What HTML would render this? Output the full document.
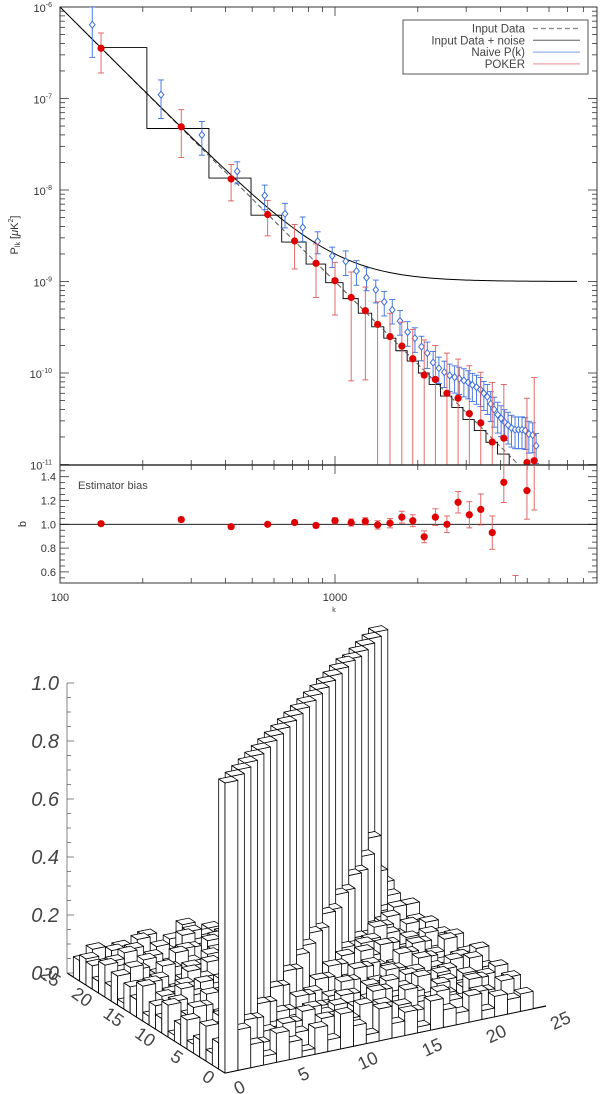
<!DOCTYPE html>
<html><head><meta charset="utf-8"><style>
html,body{margin:0;padding:0;background:#fff}
svg{display:block;font-family:"Liberation Sans",sans-serif}
</style></head><body>
<svg id="fig" width="600" height="1094" viewBox="0 0 600 1094" xmlns="http://www.w3.org/2000/svg">
<defs><clipPath id="clipTop"><rect x="60" y="7" width="537" height="458"/></clipPath>
<clipPath id="clipBot"><rect x="60" y="465" width="537" height="118"/></clipPath></defs>
<g id="topPanel"></g>
<g id="biasPanel"></g>
<g id="legoPanel"></g>
</svg>
<script>
// ---------- data: power spectrum ----------
const pokerK=[141,276,419,569,713,853,1000,1145,1289,1429,1585,1750,1918,2110,2317,2553,2803,3079,3389,3731,4111,4529,4989,5301];
const pokerP=[3.54e-7,4.9e-8,1.32e-8,5.4e-9,2.77e-9,1.58e-9,1.02e-9,6.7e-10,4.8e-10,3.4e-10,2.5e-10,1.97e-10,1.43e-10,9.5e-11,8.5e-11,6.0e-11,5.3e-11,3.6e-11,2.85e-11,1.76e-11,1.94e-11,4e-12,1.05e-11,1.1e-11];
const pokerUp=[5.2e-7,7.55e-8,1.9e-8,7.7e-9,4.2e-9,2.57e-9,1.62e-9,1.27e-9,8.7e-10,6e-10,4.5e-10,3.6e-10,3.0e-10,2.3e-10,2.0e-10,1.65e-10,1.42e-10,1.2e-10,1.02e-10,7.9e-11,7.5e-11,9e-12,5.3e-11,8.9e-11];
const pokerLo=[1.9e-7,2.27e-8,7.6e-9,3.15e-9,1.37e-9,6.7e-10,4.3e-10,8.2e-11,8.4e-11,1e-12,1e-12,1e-12,1e-12,1e-12,1e-12,1e-12,1e-12,1e-12,1e-12,1e-12,1e-12,1e-12,1e-12,1e-12];
const naiveK=[131,233,328,441,555,658,763,865,977,1094,1197,1302,1407,1510,1615,1723,1837,1953,2063,2166,2274,2387,2497,2612,2723,2830,2942,3050,3158,3270,3380,3478,3580,3684,3790,3905,4018,4140,4260,4383,4516,4645,4786,4920,5070,5236,5386];
const naiveP=[6.4e-7,1.1e-7,4.0e-8,1.6e-8,8.7e-9,5.5e-9,3.9e-9,2.75e-9,1.9e-9,1.66e-9,1.3e-9,1.1e-9,8.1e-10,6.0e-10,4.9e-10,3.7e-10,2.8e-10,2.4e-10,1.94e-10,1.65e-10,1.3e-10,1.13e-10,1.02e-10,9.4e-11,9.0e-11,8.7e-11,8.3e-11,7.9e-11,7.4e-11,7.0e-11,6.6e-11,6.0e-11,5.5e-11,4.6e-11,4.0e-11,3.5e-11,3.2e-11,2.9e-11,2.7e-11,2.5e-11,2.4e-11,2.4e-11,2.4e-11,2.35e-11,2.15e-11,2.1e-11,1.6e-11];
const naiveErr=[0.56,0.45,0.4,0.27,0.3,0.3,0.3,0.27,0.25,0.3,0.3,0.28,0.28,0.3,0.3,0.3,0.3,0.3,0.3,0.32,0.32,0.32,0.32,0.33,0.33,0.33,0.34,0.34,0.34,0.35,0.35,0.35,0.36,0.36,0.36,0.37,0.37,0.37,0.38,0.38,0.38,0.38,0.38,0.38,0.38,0.36,0.36];
const stepEdges=[141,207,348,495,640,785,925,1070,1215,1360,1505,1665,1830,2010,2200,2420,2660,2920,3210,3540,3900,4300,4750,5200];
const stepVals=[3.6e-7,4.7e-8,1.35e-8,5.3e-9,2.7e-9,1.55e-9,9.7e-10,6.5e-10,4.5e-10,3.2e-10,2.4e-10,1.75e-10,1.35e-10,1.0e-10,7.5e-11,5.6e-11,4.2e-11,3.1e-11,2.35e-11,1.75e-11,1.3e-11,9.5e-12,7e-12];
const inputAmp=1e-6, inputSlope=3, noiseLevel=1e-9;
const biasVals=[1.005,1.04,0.98,1.0,1.015,0.99,1.03,1.015,1.025,0.995,1.01,1.06,1.03,0.895,1.06,1.0,1.185,1.08,1.125,0.93,1.353,0.3,1.283,1.6];
const biasErr=[0.015,0.02,0.015,0.015,0.015,0.02,0.025,0.03,0.03,0.035,0.04,0.05,0.05,0.05,0.07,0.07,0.09,0.11,0.13,0.14,0.17,0.27,0.24,0.48];
const yTickExp=[-6,-7,-8,-9,-10,-11];
const biasTicks=["0.6","0.8","1.0","1.2","1.4"];
const xTickLabels=["100","1000"];
const legendLabels=["Input Data","Input Data + noise","Naive P(k)","POKER"];
// ---------- data: lego matrix (hundredths) ----------
const M=[
[100,14,8,3,10,6,2,9,4,12,7,3,11,5,8,2,10,6,4,9,3,7,5,6],
[9,100,15,6,2,11,7,4,10,3,8,12,5,2,9,6,3,11,7,2,8,4,10,3],
[4,11,100,13,8,3,9,12,5,7,2,10,6,9,4,12,7,3,8,5,11,6,3,9],
[12,5,9,100,16,7,4,2,11,8,10,3,7,12,5,2,9,6,10,4,7,9,2,5],
[6,9,3,12,100,14,10,6,3,9,5,11,2,8,10,7,4,12,3,9,6,2,8,10],
[3,7,11,5,10,100,17,8,12,4,7,2,9,5,3,11,8,5,7,10,4,8,6,2],
[10,4,6,9,3,13,100,15,6,10,3,8,12,4,9,6,2,10,5,3,9,5,11,7],
[7,12,2,8,11,6,12,100,18,5,9,4,6,10,2,8,11,3,9,6,2,10,4,12],
[2,8,10,4,7,9,5,14,100,16,7,11,3,8,12,4,6,9,2,11,7,3,9,4],
[11,3,7,12,5,2,10,6,15,100,19,6,9,2,7,10,3,8,12,5,9,6,2,8],
[5,10,4,6,9,11,3,8,7,16,100,20,5,11,4,6,9,2,7,10,3,8,12,3],
[8,2,12,9,3,6,10,4,11,8,18,100,22,7,9,3,12,6,4,8,11,2,6,11],
[3,9,5,2,11,8,4,12,6,10,5,17,100,21,6,10,4,8,11,3,7,9,5,6],
[12,6,8,10,4,2,9,7,3,12,9,6,19,100,24,8,5,11,3,9,6,4,10,9],
[6,11,3,7,12,9,5,2,10,4,8,11,7,20,100,23,9,4,10,6,2,8,7,2],
[9,4,10,5,8,3,12,11,6,9,2,7,10,8,22,100,26,7,5,12,9,3,4,10],
[2,7,6,12,3,10,7,4,9,5,11,3,8,12,6,21,100,25,8,4,10,6,9,5],
[10,12,4,8,9,5,2,11,3,8,6,12,4,7,11,9,24,100,28,6,3,11,5,8],
[5,3,9,2,6,12,8,6,10,2,9,4,11,5,3,12,8,23,100,27,7,8,12,12],
[11,8,5,10,4,7,11,3,12,7,4,10,2,9,8,6,11,7,26,99,30,5,4,4],
[4,10,12,6,9,2,5,9,4,11,8,6,12,3,10,4,7,12,9,25,99,34,8,7],
[8,5,3,11,7,10,3,12,8,5,10,2,7,11,6,9,3,10,6,8,22,99,20,11],
[9,6,10,4,12,8,6,5,11,9,3,8,5,10,4,7,11,5,12,4,10,18,99,14],
[7,10,4,9,3,11,6,8,12,5,9,2,10,6,11,4,8,3,9,12,6,9,16,99]];
const zTicks=["0.0","0.2","0.4","0.6","0.8","1.0"];
const xyTicks=["0","5","10","15","20","25"];

const NS="http://www.w3.org/2000/svg";
function mk(tag,attrs,parent){const e=document.createElementNS(NS,tag);for(const k in attrs)e.setAttribute(k,attrs[k]);parent.appendChild(e);return e;}
const L=60,R=597,T=7,B=465,BB=583;
const X=k=>L+275*(Math.log10(k)-2);
const Y=p=>T+91.5*(-6-Math.log10(p));
const YB=b=>524.3-119*(b-1);
const topG=document.getElementById('topPanel'),biasG=document.getElementById('biasPanel'),legoG=document.getElementById('legoPanel');
const AX="#333";

function xTicks(y,dir,parent){
  for(let d=100;d<=1000;d*=10)for(let m=1;m<=9;m++){const k=d*m;const x=X(k);if(x>R)continue;
    const len=m==1?9:5;
    const t=mk('line',{x1:x,x2:x,y1:y,y2:y+dir*len,stroke:AX,'stroke-width':0.8},parent);
    
    }
}
let f=mk('rect',{x:L,y:T,width:R-L,height:B-T,fill:'none',stroke:AX,'stroke-width':1},topG);


xTicks(T,1,topG);xTicks(B,-1,topG);
for(let e=-6;e>=-11;e--){for(let m=1;m<=9;m++){const p=m*Math.pow(10,e);const y=Y(p);if(y>B+0.1)continue;
  const len=m==1?9:5;
  const a=mk('line',{x1:L,x2:L+len,y1:y,y2:y,stroke:AX,'stroke-width':0.8},topG);
  
  const b=mk('line',{x1:R,x2:R-len,y1:y,y2:y,stroke:AX,'stroke-width':0.8},topG);
  }}
yTickExp.forEach(e=>{const t=mk('text',{x:52,y:Y(Math.pow(10,e))+5,'text-anchor':'end','font-size':11,fill:'#333'},topG);
  
  
  t.innerHTML='10<tspan dy="-5" font-size="7">'+e+'</tspan>';});
let yt=mk('text',{x:18,y:235,'text-anchor':'middle','font-size':11,fill:'#333',transform:'rotate(-90 18 235)'},topG);


yt.innerHTML='P<tspan font-size="7" dy="2">lk</tspan><tspan dy="-2"> [</tspan><tspan font-style="italic">μ</tspan>K<tspan font-size="7" dy="-5">2</tspan><tspan dy="5">]</tspan>';

const gc=mk('g',{'clip-path':'url(#clipTop)'},topG);
let sd='';stepVals.forEach((v,i)=>{const x1=X(stepEdges[i]),x2=X(stepEdges[i+1]),y=Y(v);sd+=(i==0?'M':'L')+x1+','+y+'L'+x2+','+y;});
let st=mk('path',{d:sd,fill:'none',stroke:'#000','stroke-width':0.9},gc);


let dIn='',dN='';
for(let lk=2;lk<=3.74;lk+=0.01){const k=Math.pow(10,lk);const p=inputAmp*Math.pow(k/100,-inputSlope);dIn+=(dIn?'L':'M')+X(k)+','+Y(p);}
for(let lk=2;lk<=3.885;lk+=0.01){const k=Math.pow(10,lk);const p=inputAmp*Math.pow(k/100,-inputSlope)+noiseLevel;dN+=(dN?'L':'M')+X(k)+','+Y(p);}
let c1=mk('path',{d:dIn,fill:'none',stroke:'#555','stroke-width':1,'stroke-dasharray':'5,3'},gc);


let c2=mk('path',{d:dN,fill:'none',stroke:'#000','stroke-width':1},gc);


naiveK.forEach((k,i)=>{const x=X(k),p=naiveP[i],y=Y(p),e=naiveErr[i];
  const g=mk('g',{},gc);
  
  
  const yu=Y(p*(1+e)),yl=Y(p*(1-e));
  mk('line',{x1:x,x2:x,y1:yu,y2:yl,stroke:'#3a6fe0','stroke-width':0.9},g);
  mk('line',{x1:x-3,x2:x+3,y1:yu,y2:yu,stroke:'#3a6fe0','stroke-width':0.9},g);
  mk('line',{x1:x-3,x2:x+3,y1:yl,y2:yl,stroke:'#3a6fe0','stroke-width':0.9},g);
  mk('path',{d:`M${x},${y-3.5}L${x+2.8},${y}L${x},${y+3.5}L${x-2.8},${y}Z`,fill:'#fff',stroke:'#3a6fe0','stroke-width':1},g);});
pokerK.forEach((k,i)=>{const x=X(k),y=Y(pokerP[i]);
  const g=mk('g',{},gc);
  
  
  const yu=Y(pokerUp[i]),yl=Y(pokerLo[i]);
  mk('line',{x1:x,x2:x,y1:yu,y2:yl,stroke:'#e05a5a','stroke-width':0.9},g);
  mk('line',{x1:x-3,x2:x+3,y1:yu,y2:yu,stroke:'#e05a5a','stroke-width':0.9},g);
  mk('line',{x1:x-3,x2:x+3,y1:yl,y2:yl,stroke:'#e05a5a','stroke-width':0.9},g);
  mk('circle',{cx:x,cy:y,r:3.6,fill:'#e00000'},g);});
const lg=mk('g',{},topG);


mk('rect',{x:403,y:20,width:185,height:54,fill:'#fff',stroke:'#444','stroke-width':0.9},lg);
const lstyle=[{stroke:'#888','stroke-dasharray':'5,3'},{stroke:'#888'},{stroke:'#9ab0f0'},{stroke:'#f0a0a8'}];
legendLabels.forEach((s,i)=>{const y=28.5+11.8*i;
  const en=mk('g',{},lg);
  
  
  const t=mk('text',{x:525,y:y+4,'text-anchor':'end','font-size':11.5,fill:'#444'},en);t.textContent=s;
  mk('line',Object.assign({x1:533,x2:580,y1:y,y2:y,'stroke-width':1.3},lstyle[i]),en);});

// ---------- bias panel ----------
let f2=mk('rect',{x:L,y:B,width:R-L,height:BB-B,fill:'none',stroke:AX,'stroke-width':1},biasG);


mk('line',{x1:L,x2:R,y1:B,y2:B,stroke:AX,'stroke-width':1.6},biasG);
xTicks(BB,-1,biasG);xTicks(B,1,biasG);
for(let n=11;n<30;n++){const b=n*0.05;const y=YB(b);const major=(n%4==0);
  const len=major?9:5;
  const a=mk('line',{x1:L,x2:L+len,y1:y,y2:y,stroke:AX,'stroke-width':0.8},biasG);
  
  const c=mk('line',{x1:R,x2:R-len,y1:y,y2:y,stroke:AX,'stroke-width':0.8},biasG);
  }
biasTicks.forEach(s=>{const t=mk('text',{x:56,y:YB(parseFloat(s))+4,'text-anchor':'end','font-size':11,fill:'#333'},biasG);
  
  
  t.textContent=s;});
let bl=mk('line',{x1:L,x2:R,y1:YB(1),y2:YB(1),stroke:'#000','stroke-width':0.9},biasG);


let et=mk('text',{x:78,y:489,'font-size':11,fill:'#444'},biasG);


et.textContent='Estimator bias';
let bt=mk('text',{x:26,y:524,'text-anchor':'middle','font-size':11,fill:'#333',transform:'rotate(-90 26 524)'},biasG);


bt.textContent='b';
const gb=mk('g',{'clip-path':'url(#clipBot)'},biasG);
pokerK.forEach((k,i)=>{const x=X(k),b=biasVals[i],e=biasErr[i];
  const g=mk('g',{},gb);
  
  
  const yu=YB(b+e),yl=YB(b-e);
  mk('line',{x1:x,x2:x,y1:yu,y2:yl,stroke:'#e05a5a','stroke-width':0.9},g);
  mk('line',{x1:x-3,x2:x+3,y1:yu,y2:yu,stroke:'#e05a5a','stroke-width':0.9},g);
  mk('line',{x1:x-3,x2:x+3,y1:yl,y2:yl,stroke:'#e05a5a','stroke-width':0.9},g);
  mk('circle',{cx:x,cy:YB(b),r:3.6,fill:'#e00000'},g);});
xTickLabels.forEach(s=>{const t=mk('text',{x:X(+s),y:601,'text-anchor':'middle','font-size':11,fill:'#333'},biasG);
  
  
  t.textContent=s;});
let kt=mk('text',{x:334,y:612,'text-anchor':'middle','font-size':7,fill:'#333'},biasG);


kt.textContent='k';

// ---------- lego plot ----------
const O=[225,1073],UX=[12.84,-2.68],UY=[-6.32,-4.0],UZ=290;
const P3=(x,y,z)=>[O[0]+x*UX[0]+y*UY[0],O[1]+x*UX[1]+y*UY[1]-z*UZ];
const pts=a=>a.map(p=>p[0].toFixed(2)+','+p[1].toFixed(2)).join(' ');
const ax=mk('g',{},legoG);


let a0=P3(0,0,0),ax25=P3(25,0,0),ay25=P3(0,25,0);
mk('line',{x1:a0[0],y1:a0[1],x2:ax25[0],y2:ax25[1],stroke:'#000','stroke-width':1.2},ax);
mk('line',{x1:a0[0],y1:a0[1],x2:ay25[0],y2:ay25[1],stroke:'#000','stroke-width':1.2},ax);
let ztop=P3(0,25,1);
mk('line',{x1:ay25[0],y1:ay25[1],x2:ztop[0],y2:ztop[1],stroke:'#666','stroke-width':0.8},ax);
for(let n=0;n<=20;n++){const z=n*0.05;const p=P3(0,25,z);const major=(n%4==0);
  mk('line',{x1:p[0],x2:p[0]+(major?7:4),y1:p[1],y2:p[1],stroke:'#666','stroke-width':0.8},ax);}
zTicks.forEach(s=>{const p=P3(0,25,parseFloat(s));const t=mk('text',{x:p[0]-8,y:p[1]+7,'text-anchor':'end','font-size':20,'font-style':'italic',fill:'#444'},ax);
  
  
  t.textContent=s;});
xyTicks.forEach(s=>{const v=+s;let p=P3(v,0,0);
  let cx=p[0]+17,cy=p[1]+20;
  let t=mk('text',{x:cx,y:cy,'text-anchor':'middle','font-size':18,fill:'#444',transform:`rotate(-25 ${cx} ${cy})`},ax);
  
  
  t.textContent=s;
  p=P3(0,v,0);
  cx=p[0]-20;cy=p[1]+9;
  t=mk('text',{x:cx,y:cy,'text-anchor':'middle','font-size':18,fill:'#444',transform:`rotate(35 ${cx} ${cy})`},ax);
  
  
  t.textContent=s;});
const cells=[];
for(let j=0;j<M.length;j++)for(let i=0;i<M[j].length;i++)cells.push([i,j]);
cells.sort((a,b)=>(b[0]+b[1])-(a[0]+a[1]));
const bars=mk('g',{fill:'#fff',stroke:'#000','stroke-width':0.8,'stroke-linejoin':'round'},legoG);


cells.forEach(([i,j])=>{const h=M[j][i]/100;
  const g=mk('g',{},bars);
  
  
  mk('polygon',{points:pts([P3(i,j,0),P3(i,j+1,0),P3(i,j+1,h),P3(i,j,h)])},g);
  mk('polygon',{points:pts([P3(i,j,0),P3(i+1,j,0),P3(i+1,j,h),P3(i,j,h)])},g);
  mk('polygon',{points:pts([P3(i,j,h),P3(i+1,j,h),P3(i+1,j+1,h),P3(i,j+1,h)])},g);});
</script>
</body></html>
